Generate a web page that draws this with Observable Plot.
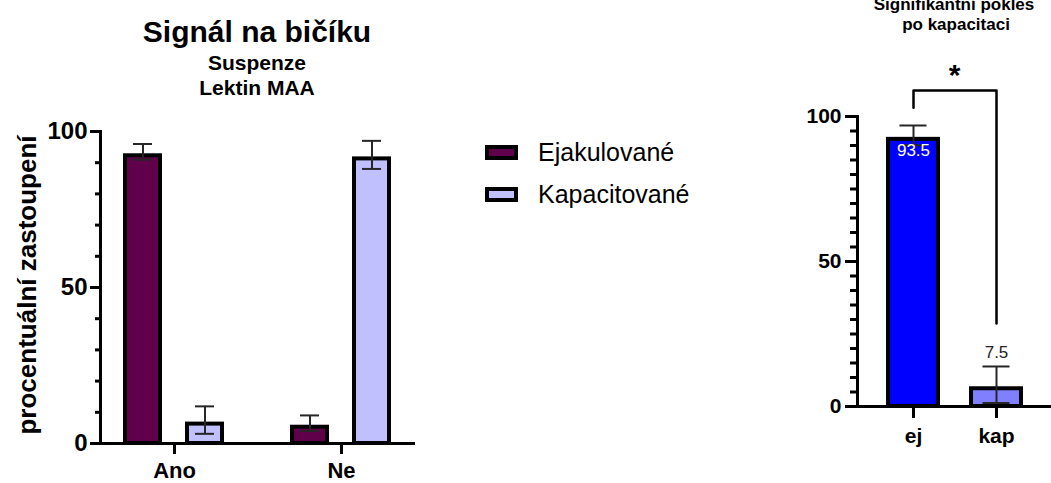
<!DOCTYPE html>
<html><head><meta charset="utf-8">
<script src="https://cdn.jsdelivr.net/npm/d3@7"></script>
<script src="https://cdn.jsdelivr.net/npm/@observablehq/plot@0.6"></script>
<style>
body{margin:0;background:#fff;font-family:"Liberation Sans",Arial,sans-serif;color:#000;}
#root{position:relative;width:1051px;height:483px;overflow:hidden;}
.abs{position:absolute;white-space:nowrap;line-height:1;transform:translate(-50%,-50%);text-align:center;}
.bold{font-weight:bold;}
.leg{position:absolute;display:flex;align-items:center;}
.sw{width:33px;height:15px;box-sizing:border-box;border:4px solid #000;margin-right:20px;}
.leg span{font-size:25px;line-height:1;}
svg{position:absolute;top:0;font-family:"Liberation Sans",Arial,sans-serif;}
</style></head><body><div id="root"></div>
<script>
// ---- left chart data ----
const groups = ["Ano", "Ne"];
const series = ["Ejakulované", "Kapacitované"];
const seriesColors = ["#60004b", "#c0c0ff"];
const ejakValues = [93.5, 6.5];
const ejakErrors = [2.5, 2.5];
const kapValues = [7.5, 92.5];
const kapErrors = [4.4, 4.5];
const leftMajorTicks = [0, 50, 100];
const leftMinorTicks = [0, 10, 20, 30, 40, 50, 60, 70, 80, 90, 100];

// ---- right chart data ----
const rightCategories = ["ej", "kap"];
const rightValues = [93.5, 7.5];
const rightErrors = [3.4, 6.3];
const rightLabels = ["93.5", "7.5"];
const rightColors = ["#0000ff", "#8080ff"];
const rightMajorTicks = [0, 50, 100];
const rightMinorTicks = [0, 5, 10, 15, 20, 25, 30, 35, 40, 45, 50, 55, 60, 65, 70, 75, 80, 85, 90, 95, 100];
const bracketX = ["ej", "ej", "kap", "kap"];
const bracketY = [103, 109, 109, 28.6];
const starY = [114.3];
const starText = ["*"];

const root = document.getElementById("root");

// ---- left plot ----
const leftData = [];
groups.forEach((g, i) => {
  leftData.push({group: g, series: series[0], value: ejakValues[i], err: ejakErrors[i]});
  leftData.push({group: g, series: series[1], value: kapValues[i], err: kapErrors[i]});
});
const errStroke = "#262626";
const left = Plot.plot({
  width: 450, height: 483,
  marginTop: 131, marginBottom: 40, marginLeft: 100, marginRight: 35,
  fx: {domain: groups, paddingInner: 0.114, paddingOuter: 0, label: null, axis: null},
  x: {domain: series, paddingInner: 0.43, paddingOuter: 0.39, axis: null},
  y: {domain: [0, 100], axis: null},
  color: {domain: series, range: seriesColors},
  marks: [
    Plot.barY(leftData, {fx: "group", x: "series", y: "value", fill: "series", stroke: "black", strokeWidth: 4, insetTop: 4}),
    Plot.ruleX(leftData, {fx: "group", x: "series", y1: d => d.value - d.err, y2: d => d.value + d.err, stroke: errStroke, strokeWidth: 2}),
    Plot.tickY(leftData, {fx: "group", x: "series", y: d => d.value + d.err, stroke: errStroke, strokeWidth: 2, insetLeft: 8, insetRight: 8}),
    Plot.tickY(leftData, {fx: "group", x: "series", y: d => d.value - d.err, stroke: errStroke, strokeWidth: 2, insetLeft: 8, insetRight: 8}),
    Plot.ruleY([0], {fx: [groups[0]], strokeWidth: 3, insetRight: -20}),
    Plot.ruleY([0], {fx: [groups[1]], strokeWidth: 3}),
    Plot.frame({anchor: "left", strokeWidth: 3, facetAnchor: "left"}),
    Plot.axisY({ticks: leftMinorTicks, tickSize: 5, strokeWidth: 3, text: null, label: null}),
    Plot.axisY({ticks: leftMajorTicks, tickSize: 10, strokeWidth: 3, tickPadding: 3, fontSize: 24, fontWeight: "bold", label: null}),
    Plot.axisFx({anchor: "bottom", tickSize: 11, strokeWidth: 3, tickPadding: 8, fontSize: 22, fontWeight: "bold", label: null})
  ]
});
left.style.left = "0px";
root.appendChild(left);

// ---- right plot ----
const rightData = rightCategories.map((c, i) => ({cat: c, value: rightValues[i], err: rightErrors[i], label: rightLabels[i]}));
const bracket = bracketX.map((x, i) => ({x, y: bracketY[i]}));
const right = Plot.plot({
  width: 291, height: 483,
  marginTop: 116, marginBottom: 77, marginLeft: 97, marginRight: 0,
  x: {domain: rightCategories, paddingInner: 0.4, paddingOuter: 0.365, axis: null},
  y: {domain: [0, 100], axis: null},
  color: {domain: rightCategories, range: rightColors},
  marks: [
    Plot.barY(rightData, {x: "cat", y: "value", fill: "cat", stroke: "black", strokeWidth: 4, insetTop: 4}),
    Plot.ruleX(rightData, {x: "cat", y1: d => d.value - d.err, y2: d => d.value + d.err, stroke: errStroke, strokeWidth: 2}),
    Plot.tickY(rightData, {x: "cat", y: d => d.value + d.err, stroke: errStroke, strokeWidth: 2, insetLeft: 11.5, insetRight: 11.5}),
    Plot.tickY(rightData, {x: "cat", y: d => d.value - d.err, stroke: errStroke, strokeWidth: 2, insetLeft: 11.5, insetRight: 11.5}),
    Plot.ruleY([0], {strokeWidth: 3}),
    Plot.frame({anchor: "left", strokeWidth: 3}),
    Plot.axisY({ticks: rightMinorTicks, tickSize: 7, strokeWidth: 3, text: null, label: null}),
    Plot.axisY({ticks: rightMajorTicks, tickSize: 12, strokeWidth: 3, tickPadding: 4, fontSize: 21, fontWeight: "bold", label: null}),
    Plot.axisX({tickSize: 12, strokeWidth: 3, tickPadding: 10, fontSize: 21, fontWeight: "bold", label: null}),
    Plot.text(rightData.slice(0, 1), {x: "cat", y: "value", text: "label", fill: "white", dy: 15, fontSize: 17}),
    Plot.text(rightData.slice(1), {x: "cat", y: d => d.value + d.err, text: "label", dy: -14, fontSize: 17, fill: "#222"}),
    Plot.line(bracket, {x: "x", y: "y", stroke: "black", strokeWidth: 2.5}),
    Plot.text(starText, {y: starY, text: d => d, fontSize: 30, fontWeight: "bold"})
  ]
});
right.style.left = "760px";
root.appendChild(right);

// ---- titles & labels ----
function addText(txt, x, y, size, bold, rotate) {
  const d = document.createElement("div");
  d.className = "abs" + (bold ? " bold" : "");
  d.textContent = txt;
  d.style.left = x + "px";
  d.style.top = y + "px";
  d.style.fontSize = size + "px";
  if (rotate) d.style.transform = "translate(-50%,-50%) rotate(-90deg)";
  root.appendChild(d);
}
addText("Signál na bičíku", 257, 31.5, 30, true);
addText("Suspenze", 257, 61.5, 21, true);
addText("Lektin MAA", 257, 86.5, 21, true);
addText("procentuální zastoupení", 27, 285, 26, true, true);
addText("Signifikantní pokles", 954, 4, 17, true);
addText("po kapacitaci", 956, 24, 17, true);

// ---- legend ----
const legendTops = [145, 187];
series.forEach((s, i) => {
  const item = document.createElement("div");
  item.className = "leg";
  item.style.left = "485px";
  item.style.top = (legendTops[i] - 5) + "px";
  const sw = document.createElement("div");
  sw.className = "sw";
  sw.style.background = seriesColors[i];
  const t = document.createElement("span");
  t.textContent = s;
  item.appendChild(sw);
  item.appendChild(t);
  root.appendChild(item);
});
</script></body></html>
